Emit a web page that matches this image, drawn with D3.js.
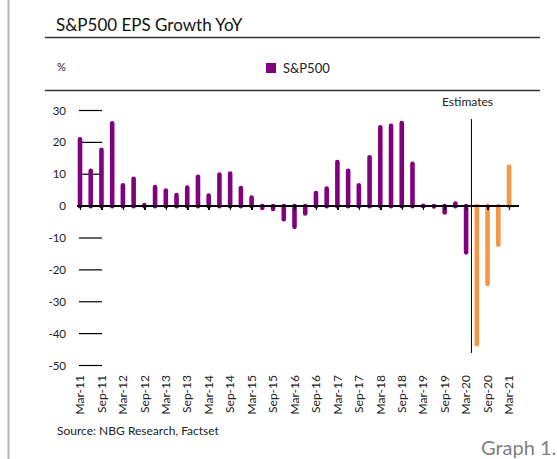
<!DOCTYPE html>
<html>
<head>
<meta charset="utf-8">
<script src="https://cdn.jsdelivr.net/npm/d3@7"></script>
<style>
  html, body {
    margin: 0;
    padding: 0;
    background: #fff;
  }

  svg {
    display: block;
    font-family: Lato, 'Open Sans', sans-serif;
  }

  .axis path,
  .axis line {
    stroke: #000;
    shape-rendering: crispEdges;
  }
</style>
</head>
<body>
<svg id="chart" width="557" height="459"></svg>
<script>
//

const quarters = [
  'Mar-11', 'Jun-11', 'Sep-11', 'Dec-11',
  'Mar-12', 'Jun-12', 'Sep-12', 'Dec-12',
  'Mar-13', 'Jun-13', 'Sep-13', 'Dec-13',
  'Mar-14', 'Jun-14', 'Sep-14', 'Dec-14',
  'Mar-15', 'Jun-15', 'Sep-15', 'Dec-15',
  'Mar-16', 'Jun-16', 'Sep-16', 'Dec-16',
  'Mar-17', 'Jun-17', 'Sep-17', 'Dec-17',
  'Mar-18', 'Jun-18', 'Sep-18', 'Dec-18',
  'Mar-19', 'Jun-19', 'Sep-19', 'Dec-19',
  'Mar-20', 'Jun-20', 'Sep-20', 'Dec-20',
  'Mar-21'
]

// EPS growth yoy, %
const epsGrowth = [
  21.0, 11.1, 17.7, 26.0,
  6.5, 8.6, 0.3, 6.0,
  4.9, 3.5, 5.8, 9.2,
  3.3, 9.9, 10.2, 5.7,
  2.7, -0.6, -0.9, -4.1,
  -6.5, -2.3, 4.1, 5.5,
  13.8, 11.1, 6.5, 15.3,
  24.7, 25.2, 26.1, 13.3,
  0.1, -0.1, -2.0, 0.8,
  -14.5, -43.3, -24.4, -12.1,
  12.3
]

const firstEstimate = 'Jun-20'

const xTickLabels = [
  'Mar-11', 'Sep-11', 'Mar-12', 'Sep-12', 'Mar-13', 'Sep-13', 'Mar-14',
  'Sep-14', 'Mar-15', 'Sep-15', 'Mar-16', 'Sep-16', 'Mar-17', 'Sep-17',
  'Mar-18', 'Sep-18', 'Mar-19', 'Sep-19', 'Mar-20', 'Sep-20', 'Mar-21'
]

const yTicks = [30, 20, 10, 0, -10, -20, -30, -40, -50]

const seriesName = 'S&P500'
const actualColor = '#800080'
const estimateColor = '#F79646'

//

const svg = d3.select('#chart')
const estIndex = quarters.indexOf(firstEstimate)
const data = quarters.map((q, i) => ({q, v: epsGrowth[i], est: i >= estIndex}))

const x = d3.scalePoint().domain(quarters).range([80, 509])
const y = d3.scaleLinear().domain([-50, 30]).range([365.5, 110.5])

// frame
svg.append('line')
  .attr('x1', 8.5).attr('x2', 8.5)
  .attr('y1', 0).attr('y2', 459)
  .attr('stroke', '#b5b5b5')
  .attr('stroke-width', 2)

svg.append('text')
  .attr('x', 56)
  .attr('y', 31)
  .attr('font-size', 17)
  .attr('fill', '#111')
  .text('S&P500 EPS Growth YoY')

svg.selectAll('.rule')
  .data([37.5, 90.5])
  .enter().append('line')
  .attr('class', 'rule')
  .attr('x1', 45).attr('x2', 540)
  .attr('y1', d => d).attr('y2', d => d)
  .attr('stroke', '#333')
  .attr('stroke-width', 1.5)

svg.append('text')
  .attr('x', 57)
  .attr('y', 71)
  .attr('font-size', 11)
  .attr('fill', '#222')
  .text('%')

// legend
const legend = svg.append('g').attr('transform', 'translate(266,63)')
legend.append('rect')
  .attr('width', 10).attr('height', 10)
  .attr('fill', actualColor)
legend.append('text')
  .attr('x', 17)
  .attr('y', 10)
  .attr('font-size', 13)
  .attr('fill', '#222')
  .text(seriesName)

// y ticks (short rules, no axis line)
svg.selectAll('.ytick')
  .data(yTicks)
  .enter().append('line')
  .attr('class', 'ytick')
  .attr('x1', 79).attr('x2', 102)
  .attr('y1', d => y(d)).attr('y2', d => y(d))
  .attr('stroke', '#000')
  .attr('stroke-width', 1.2)

svg.selectAll('.ylabel')
  .data(yTicks)
  .enter().append('text')
  .attr('class', 'ylabel')
  .attr('x', 66)
  .attr('y', d => y(d))
  .attr('dy', '0.35em')
  .attr('text-anchor', 'end')
  .attr('font-size', 11.5)
  .attr('fill', '#222')
  .text(d => d)

// bars, drawn as thick round-capped strokes
svg.append('g')
  .selectAll('line')
  .data(data)
  .enter().append('line')
  .attr('x1', d => x(d.q)).attr('x2', d => x(d.q))
  .attr('y1', y(0))
  .attr('y2', d => y(d.v))
  .attr('stroke', d => d.est ? estimateColor : actualColor)
  .attr('stroke-width', 4.6)
  .attr('stroke-linecap', 'round')

// zero axis
const xAxis = d3.axisBottom(x)
  .tickValues(xTickLabels)
  .tickSize(4)
  .tickFormat('')

const axisG = svg.append('g')
  .attr('class', 'axis')
  .attr('transform', 'translate(0,' + y(0) + ')')
  .call(xAxis)
axisG.select('.domain').remove()
axisG.selectAll('.tick line').attr('stroke-width', 1.5)
axisG.append('line')
  .attr('x1', x.range()[0] - 3)
  .attr('x2', x.range()[1] + 10)
  .attr('stroke', '#000')
  .attr('stroke-width', 2)

// category labels
svg.selectAll('.xlabel')
  .data(xTickLabels)
  .enter().append('text')
  .attr('class', 'xlabel')
  .attr('transform', d => 'translate(' + x(d) + ',375) rotate(-90)')
  .attr('dy', '0.35em')
  .attr('text-anchor', 'end')
  .attr('font-size', 12)
  .attr('fill', '#222')
  .text(d => d)

// estimates divider
const divX = (x(quarters[estIndex - 1]) + x(firstEstimate)) / 2
svg.append('line')
  .attr('x1', divX).attr('x2', divX)
  .attr('y1', 119).attr('y2', 353)
  .attr('stroke', '#000')
  .attr('stroke-width', 1)

svg.append('text')
  .attr('x', divX - 4)
  .attr('y', 106)
  .attr('text-anchor', 'middle')
  .attr('font-size', 12)
  .attr('fill', '#222')
  .text('Estimates')

// footer
svg.append('text')
  .attr('x', 57)
  .attr('y', 435)
  .attr('font-size', 12)
  .attr('fill', '#222')
  .text('Source: NBG Research, Factset')

svg.append('text')
  .attr('x', 481)
  .attr('y', 455)
  .attr('font-size', 20)
  .attr('fill', '#7f7f7f')
  .text('Graph 1.')
</script>
</body>
</html>
